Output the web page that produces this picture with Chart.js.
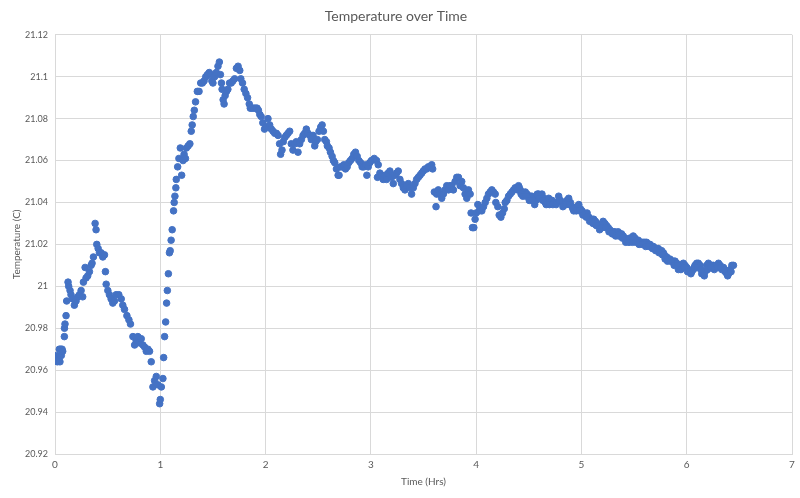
<!DOCTYPE html>
<html>
<head>
<meta charset="utf-8">
<title>Temperature over Time</title>
<script src="https://cdn.jsdelivr.net/npm/chart.js@4.4.1/dist/chart.umd.min.js"></script>
<style>
  html, body { margin: 0; padding: 0; background: #fff; }
  #wrap { width: 800px; height: 498px; position: relative; }
</style>
</head>
<body>
<div id="wrap"><canvas id="chart"></canvas></div>
<script>
// readings, time in hours (x) and temperature in C (y), same order
const timeHrs = [
  0.003, 0.01, 0.016, 0.022, 0.029, 0.035, 0.041, 0.047, 0.054, 0.06,
  0.067, 0.073, 0.089, 0.09, 0.095, 0.105, 0.111, 0.124, 0.13, 0.143,
  0.152, 0.168, 0.184, 0.2, 0.216, 0.232, 0.248, 0.263, 0.27, 0.286,
  0.295, 0.311, 0.327, 0.343, 0.352, 0.365, 0.381, 0.39, 0.397, 0.41,
  0.422, 0.438, 0.454, 0.47, 0.479, 0.486, 0.502, 0.517, 0.533, 0.549,
  0.565, 0.581, 0.606, 0.629, 0.644, 0.66, 0.683, 0.702, 0.717, 0.74,
  0.756, 0.771, 0.787, 0.803, 0.819, 0.835, 0.851, 0.867, 0.883, 0.898,
  0.914, 0.93, 0.946, 0.962, 0.978, 0.994, 1.0, 1.01, 1.025, 1.032,
  1.041, 1.051, 1.06, 1.067,
  1.077, 1.087, 1.094, 1.103, 1.113, 1.126, 1.132, 1.139, 1.148, 1.152,
  1.165, 1.177, 1.19, 1.203, 1.216, 1.226, 1.239, 1.248, 1.265, 1.281,
  1.294, 1.303, 1.313, 1.323, 1.335, 1.352, 1.368, 1.384, 1.4, 1.416,
  1.432, 1.448, 1.465, 1.481, 1.49, 1.5, 1.516, 1.532, 1.548, 1.561,
  1.571, 1.581, 1.587, 1.597, 1.606, 1.616, 1.629, 1.642, 1.658, 1.674,
  1.69, 1.706, 1.723, 1.739, 1.755, 1.765, 1.781, 1.797, 1.813, 1.829,
  1.845, 1.855, 1.868, 1.887, 1.903, 1.919, 1.932, 1.945, 1.958, 1.974,
  1.99, 2.006, 2.023, 2.039, 2.055, 2.071, 2.087, 2.103, 2.119,
  2.133, 2.143, 2.156, 2.168, 2.181, 2.197, 2.213, 2.229, 2.244, 2.26,
  2.276, 2.292, 2.308, 2.324, 2.34, 2.356, 2.371, 2.387, 2.403, 2.419,
  2.435, 2.451, 2.467, 2.476, 2.492, 2.508, 2.524, 2.537, 2.549, 2.562,
  2.578, 2.587, 2.603, 2.616, 2.632, 2.644, 2.657, 2.673, 2.689, 2.698,
  2.711, 2.727, 2.743, 2.759, 2.775, 2.79, 2.806, 2.822, 2.838, 2.854,
  2.87, 2.886, 2.902, 2.917, 2.933, 2.949, 2.962, 2.975, 2.99,
  3.006, 3.032, 3.054, 3.063, 3.07, 3.086, 3.102, 3.117, 3.133, 3.149,
  3.165, 3.181, 3.197, 3.213, 3.229, 3.244, 3.26, 3.276, 3.292, 3.308,
  3.324, 3.34, 3.356, 3.371, 3.387, 3.403, 3.419, 3.435, 3.451, 3.467,
  3.483, 3.498, 3.514, 3.53, 3.546, 3.562, 3.578, 3.587, 3.603, 3.619,
  3.625, 3.641, 3.657, 3.673, 3.689, 3.705, 3.721, 3.737, 3.752, 3.768,
  3.784, 3.8, 3.816, 3.832, 3.848, 3.863, 3.879, 3.895, 3.911, 3.927,
  3.943, 3.952, 3.965, 3.978, 3.99, 4.0, 4.016, 4.029, 4.041, 4.054,
  4.07, 4.086, 4.102, 4.117, 4.133,
  4.149, 4.165, 4.181, 4.187, 4.206, 4.219, 4.235, 4.251, 4.267, 4.276,
  4.292, 4.308, 4.324, 4.34, 4.356, 4.371, 4.387, 4.403, 4.419, 4.435,
  4.451, 4.467, 4.483, 4.498, 4.514, 4.53, 4.546, 4.556, 4.568, 4.581,
  4.594, 4.61, 4.625, 4.641, 4.657, 4.673, 4.689, 4.705, 4.721, 4.737,
  4.752, 4.768, 4.784, 4.8, 4.816, 4.832, 4.848, 4.863, 4.879, 4.895,
  4.911, 4.927, 4.943, 4.959, 4.975, 4.99, 5.006, 5.022, 5.038, 5.054,
  5.07, 5.086, 5.102, 5.117, 5.133, 5.149, 5.165, 5.181,
  5.206, 5.222, 5.238, 5.254, 5.27, 5.286, 5.302, 5.317, 5.333, 5.349,
  5.365, 5.381, 5.397, 5.413, 5.429, 5.444, 5.46, 5.476, 5.492, 5.508,
  5.524, 5.54, 5.556, 5.571, 5.587, 5.603, 5.619, 5.635, 5.651, 5.667,
  5.683, 5.698, 5.714, 5.73, 5.746, 5.762, 5.778, 5.787, 5.8, 5.81,
  5.825, 5.841, 5.857, 5.873, 5.889, 5.905, 5.921, 5.937, 5.952, 5.968,
  5.984, 6.0, 6.016, 6.032, 6.048, 6.063, 6.079, 6.095, 6.111, 6.127,
  6.143, 6.159, 6.175, 6.19, 6.206, 6.222, 6.238, 6.254, 6.27, 6.286,
  6.302, 6.317, 6.333, 6.349, 6.365, 6.381, 6.397, 6.413, 6.429, 6.444,
  // lower edge of the band after 4.4 h
  4.395, 4.41, 4.427, 4.443, 4.475, 4.505, 4.537, 4.6, 4.633, 4.665,
  4.697, 4.729, 4.76, 4.79, 4.824, 4.856, 4.887, 4.919, 4.951, 4.982,
  5.014, 5.046, 5.078, 5.11, 5.141, 5.173, 5.194, 5.23, 5.262, 5.294,
  5.325, 5.357, 5.389, 5.421, 5.452, 5.484, 5.516, 5.548, 5.579, 5.611,
  5.643, 5.675, 5.706, 5.738, 5.77, 5.795, 5.818, 5.849, 5.881, 5.913,
  5.945, 5.976, 6.008, 6.04, 6.071, 6.103, 6.135, 6.167, 6.198, 6.23,
  6.262, 6.294, 6.325, 6.357, 6.389, 6.421
];

const tempC = [
  20.966, 20.965, 20.967, 20.964, 20.966, 20.965, 20.97, 20.964, 20.97, 20.967,
  20.97, 20.969, 20.976, 20.98, 20.982, 20.986, 20.993, 21.002, 21.0, 20.998,
  20.996, 20.994, 20.991, 20.993, 20.995, 20.996, 20.998, 20.995, 21.002, 21.009,
  21.004, 21.005, 21.007, 21.01, 21.011, 21.014, 21.03, 21.027, 21.02, 21.018,
  21.016, 21.016, 21.014, 21.015, 21.007, 21.001, 20.998, 20.996, 20.994, 20.992,
  20.993, 20.996, 20.996, 20.994, 20.991, 20.989, 20.986, 20.984, 20.982, 20.976,
  20.972, 20.974, 20.976, 20.973, 20.975, 20.972, 20.971, 20.969, 20.97, 20.969,
  20.964, 20.952, 20.955, 20.957, 20.953, 20.944, 20.946, 20.952, 20.956, 20.966,
  20.976, 20.983, 20.992, 20.998,
  21.006, 21.016, 21.017, 21.022, 21.027, 21.036, 21.04, 21.043, 21.047, 21.051,
  21.057, 21.061, 21.066, 21.053, 21.06, 21.063, 21.061, 21.066, 21.067, 21.068,
  21.074, 21.077, 21.081, 21.084, 21.088, 21.093, 21.093, 21.097, 21.097, 21.098,
  21.1, 21.101, 21.102, 21.101, 21.098, 21.097, 21.1, 21.102, 21.105, 21.107,
  21.101, 21.097, 21.094, 21.089, 21.087, 21.091, 21.093, 21.094, 21.097, 21.097,
  21.098, 21.099, 21.104, 21.105, 21.103, 21.099, 21.097, 21.094, 21.092, 21.09,
  21.087, 21.085, 21.085, 21.085, 21.085, 21.085, 21.084, 21.082, 21.081, 21.078,
  21.075, 21.076, 21.08, 21.077, 21.075, 21.074, 21.073, 21.073, 21.072,
  21.068, 21.063, 21.065, 21.069, 21.071, 21.072, 21.073, 21.074, 21.068, 21.065,
  21.068, 21.069, 21.064, 21.068, 21.07, 21.072, 21.073, 21.075, 21.073, 21.072,
  21.07, 21.072, 21.067, 21.069, 21.07, 21.074, 21.076, 21.077, 21.074, 21.07,
  21.069, 21.067, 21.066, 21.064, 21.062, 21.06, 21.059, 21.056, 21.053, 21.053,
  21.057, 21.057, 21.058, 21.056, 21.057, 21.059, 21.06, 21.061, 21.063, 21.064,
  21.062, 21.06, 21.059, 21.057, 21.057, 21.058, 21.053, 21.057, 21.059,
  21.06, 21.061, 21.06, 21.052, 21.058, 21.054, 21.053, 21.051, 21.053, 21.051,
  21.054, 21.055, 21.052, 21.049, 21.053, 21.054, 21.055, 21.051, 21.049, 21.047,
  21.046, 21.048, 21.049, 21.047, 21.044, 21.047, 21.049, 21.051, 21.052, 21.053,
  21.054, 21.055, 21.056, 21.056, 21.057, 21.057, 21.058, 21.056, 21.045, 21.038,
  21.044, 21.046, 21.044, 21.042, 21.044, 21.046, 21.048, 21.046, 21.048, 21.048,
  21.046, 21.05, 21.052, 21.052, 21.048, 21.05, 21.047, 21.044, 21.042, 21.046,
  21.044, 21.035, 21.028, 21.028, 21.032, 21.035, 21.039, 21.036, 21.037, 21.036,
  21.038, 21.04, 21.042, 21.044, 21.045,
  21.046, 21.045, 21.044, 21.04, 21.038, 21.034, 21.033, 21.035, 21.037, 21.04,
  21.041, 21.043, 21.044, 21.045, 21.046, 21.047, 21.047, 21.048, 21.046, 21.045,
  21.044, 21.045, 21.044, 21.043, 21.043, 21.043, 21.042, 21.039, 21.041, 21.044,
  21.044, 21.043, 21.044, 21.042, 21.04, 21.041, 21.042, 21.04, 21.041, 21.04,
  21.04, 21.04, 21.043, 21.041, 21.04, 21.039, 21.04, 21.041, 21.042, 21.04,
  21.038, 21.036, 21.037, 21.038, 21.039, 21.037, 21.036, 21.035, 21.034, 21.035,
  21.033, 21.032, 21.032, 21.032, 21.031, 21.03, 21.029, 21.029,
  21.031, 21.03, 21.029, 21.028, 21.027, 21.026, 21.026, 21.026, 21.025, 21.026,
  21.025, 21.025, 21.024, 21.023, 21.022, 21.022, 21.023, 21.022, 21.024, 21.023,
  21.022, 21.022, 21.021, 21.021, 21.021, 21.021, 21.021, 21.02, 21.02, 21.019,
  21.019, 21.018, 21.018, 21.018, 21.017, 21.017, 21.016, 21.015, 21.014, 21.014,
  21.013, 21.013, 21.012, 21.012, 21.012, 21.011, 21.008, 21.01, 21.01, 21.011,
  21.01, 21.009, 21.008, 21.007, 21.007, 21.008, 21.01, 21.011, 21.011, 21.01,
  21.006, 21.006, 21.007, 21.01, 21.011, 21.01, 21.01, 21.01, 21.009, 21.01,
  21.011, 21.01, 21.008, 21.009, 21.007, 21.006, 21.006, 21.008, 21.01, 21.01,
  // lower edge of the band after 4.4 h
  21.046, 21.047, 21.044, 21.043, 21.043, 21.041, 21.041, 21.042, 21.041, 21.039,
  21.039, 21.039, 21.039, 21.041, 21.038, 21.039, 21.039, 21.037, 21.036, 21.036,
  21.034, 21.033, 21.031, 21.03, 21.029, 21.027, 21.028, 21.028, 21.026, 21.025,
  21.024, 21.024, 21.023, 21.021, 21.021, 21.021, 21.021, 21.02, 21.02, 21.019,
  21.019, 21.018, 21.017, 21.016, 21.015, 21.013, 21.012, 21.012, 21.01, 21.01,
  21.008, 21.009, 21.007, 21.006, 21.009, 21.009, 21.008, 21.005, 21.008, 21.009,
  21.008, 21.009, 21.009, 21.008, 21.005, 21.007
];

const xTicks = [0, 1, 2, 3, 4, 5, 6, 7];
const yTicks = [20.92, 20.94, 20.96, 20.98, 21, 21.02, 21.04, 21.06, 21.08, 21.1, 21.12];

const FONT = "Lato, 'Open Sans', sans-serif";
const TEXT = '#595959';
const GRID = '#d9d9d9';

const points = timeHrs.map((t, i) => ({ x: t, y: tempC[i] }));

new Chart(document.getElementById('chart'), {
  type: 'scatter',
  data: {
    datasets: [{
      label: 'Temperature',
      data: points,
      backgroundColor: '#4472c4',
      borderColor: '#4472c4',
      borderWidth: 1,
      pointRadius: 3.3,
      pointHoverRadius: 3.3
    }]
  },
  options: {
    responsive: true,
    maintainAspectRatio: false,
    animation: false,
    layout: { padding: { left: 0, right: 8, top: 0, bottom: 0 } },
    plugins: {
      legend: { display: false },
      tooltip: { enabled: false },
      title: {
        display: true,
        text: 'Temperature over Time',
        color: TEXT,
        font: { family: FONT, size: 14, weight: 'normal' },
        padding: { top: 8, bottom: 10 }
      }
    },
    scales: {
      x: {
        type: 'linear',
        min: 0,
        max: 7,
        afterBuildTicks: s => { s.ticks = xTicks.map(v => ({ value: v })); },
        afterFit: s => { s.height = 44; },
        grid: { color: GRID, drawTicks: false },
        border: { color: GRID },
        ticks: { color: TEXT, padding: 5, font: { family: FONT, size: 10 } },
        title: {
          display: true,
          text: 'Time (Hrs)',
          color: TEXT,
          font: { family: FONT, size: 10 },
          padding: { top: 0, bottom: 10 }
        }
      },
      y: {
        min: 20.92,
        max: 21.12,
        afterBuildTicks: s => { s.ticks = yTicks.map(v => ({ value: v })); },
        afterFit: s => { s.width = 55; },
        grid: { color: GRID, drawTicks: false },
        border: { color: GRID },
        ticks: {
          color: TEXT,
          padding: 7,
          font: { family: FONT, size: 9 },
          callback: v => String(+v.toFixed(2))
        },
        title: {
          display: true,
          text: 'Temperature (C)',
          color: TEXT,
          font: { family: FONT, size: 10 },
          padding: { top: 11, bottom: 0 }
        }
      }
    }
  }
});
</script>
</body>
</html>
